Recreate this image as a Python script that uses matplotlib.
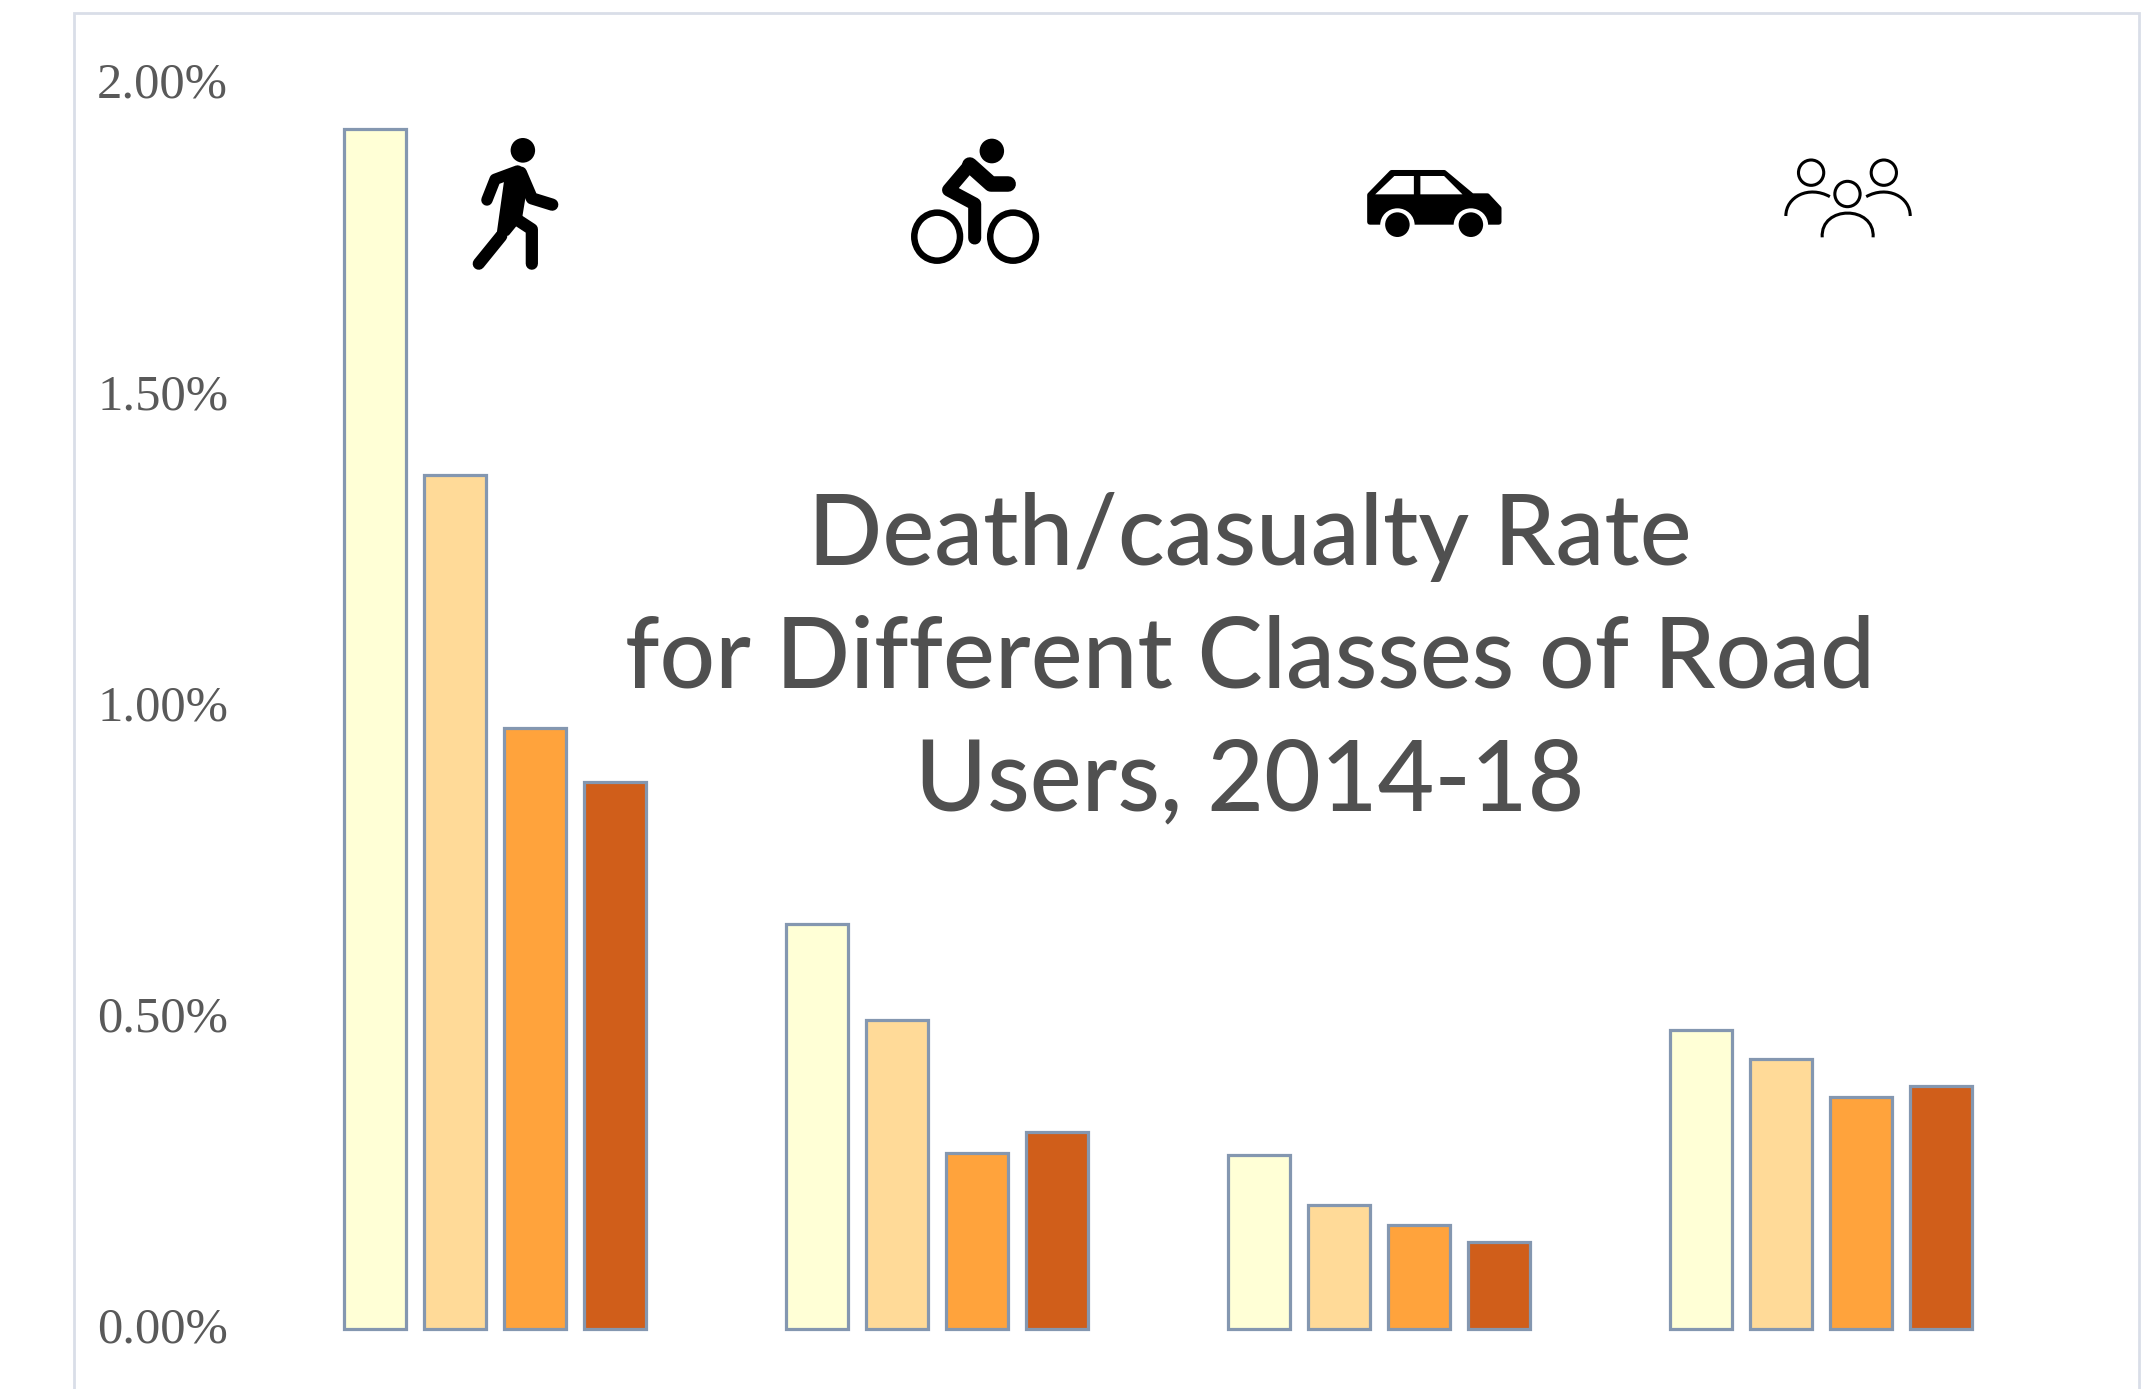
import numpy as np
import matplotlib
matplotlib.use('Agg')
import matplotlib.pyplot as plt
from matplotlib.patches import Ellipse, PathPatch
from matplotlib.path import Path
from matplotlib.transforms import ScaledTranslation

# road user groups, each with four bars
groups = ['Pedestrians', 'Cyclists', 'Car occupants', 'All road users']
series1 = [1.927, 0.650, 0.280, 0.480]
series2 = [1.372, 0.496, 0.200, 0.434]
series3 = [0.965, 0.282, 0.167, 0.372]
series4 = [0.879, 0.317, 0.139, 0.390]
colors = ['#FFFFD6', '#FFDA98', '#FFA33C', '#D05E1A']
tick_vals = [0, 0.5, 1.0, 1.5, 2.0]
tick_labels = ['0.00%', '0.50%', '1.00%', '1.50%', '2.00%']
title = 'Death/casualty Rate\nfor Different Classes of Road\nUsers, 2014-18'

W, H = 2149, 1389
fig = plt.figure(figsize=(W / 100, H / 100), dpi=100, facecolor='white')

# pixel overlay for the border and the icons
ov = fig.add_axes([0, 0, 1, 1])
ov.set_xlim(0, W)
ov.set_ylim(H, 0)
ov.axis('off')

ax = fig.add_axes([274 / W, 1 - 1329 / H, (2042 - 274) / W, (1329 - 84) / H])
ax.patch.set_alpha(0)
x = np.arange(len(groups))
step = 0.1815
width = 0.141
for i, vals in enumerate([series1, series2, series3, series4]):
    ax.bar(x + (i - 1.5) * step, vals, width, color=colors[i],
           edgecolor='#8497B0', linewidth=2.3, clip_on=False)
ax.set_xlim(-0.5, 3.5)
ax.set_ylim(0, 2)
ax.set_xticks([])
ax.set_yticks(tick_vals)
ax.set_yticklabels(tick_labels, family='Liberation Serif', fontsize=36.5, color='#595959',
                   va='center_baseline')
ax.tick_params(axis='y', length=0, pad=33)
# labels sit a little above their tick
for lab in ax.get_yticklabels():
    lab.set_transform(lab.get_transform() + ScaledTranslation(0, 4 / 100, fig.dpi_scale_trans))
for s in ax.spines.values():
    s.set_visible(False)

fig.text(1250 / W, 1 - 660 / H, title, ha='center', va='center', family='Lato',
         fontsize=70.5, fontweight='medium', color='#505050', linespacing=1.45)

# border, open at the bottom
ov.plot([74, 74, 2139, 2139], [H, 13, 13, H], color='#D9DEE8', lw=2, solid_joinstyle='miter')


def line(pts, off, lw, color='black', cap='round', join='round'):
    xs = [p[0] / off[2] + off[0] for p in pts]
    ys = [p[1] / 3 + off[1] for p in pts]
    ov.plot(xs, ys, color=color, lw=lw / off[2] * 0.72, solid_capstyle=cap, solid_joinstyle=join)


def oval(c, w, h, off, fill='black', lw=0, edge='black'):
    ov.add_patch(Ellipse((c[0] / off[2] + off[0], c[1] / 3 + off[1]), w / off[2], h / 3,
                         facecolor=fill, edgecolor=edge, linewidth=lw / off[2] * 0.72))


def shape(pts, off, fill='black', round_lw=0):
    verts = [(p[0] / off[2] + off[0], p[1] / 3 + off[1]) for p in pts] + [(0, 0)]
    codes = [Path.MOVETO] + [Path.LINETO] * (len(pts) - 1) + [Path.CLOSEPOLY]
    ov.add_patch(PathPatch(Path(verts, codes), facecolor=fill, edgecolor=fill,
                           linewidth=round_lw / off[2] * 0.72, joinstyle='round'))


def curve(pts, off, lw):
    verts = [(p[0] / off[2] + off[0], p[1] / 3 + off[1]) for p in pts]
    codes = [Path.MOVETO] + [Path.CURVE4] * (len(pts) - 1)
    ov.add_patch(PathPatch(Path(verts, codes), facecolor='none', edgecolor='black',
                           linewidth=lw / off[2] * 0.72, capstyle='butt'))


# pedestrian
off = (440, 110, 2.45)
oval((203, 121), 60, 74, off)
line([(115, 270), (135, 208), (190, 183)], off, 28)
line([(198, 188), (225, 265), (275, 284)], off, 30)
shape([(165, 195), (200, 185), (205, 250), (195, 325), (165, 370), (145, 370)], off, round_lw=12)
line([(150, 378), (95, 461)], off, 30)
line([(180, 322), (225, 358), (225, 461)], off, 30)

# cyclist
oval((1352, 123), 60, 74, off)
oval((1218, 380), 112, 144, off, fill='white', lw=16)
oval((1404, 380), 112, 144, off, fill='white', lw=16)
line([(1298, 165), (1246, 240), (1310, 282), (1310, 384)], off, 32)
line([(1298, 165), (1350, 222), (1392, 222)], off, 38)

# car
off = (1340, 130, 2.613)
shape([(78, 195), (135, 128), (272, 128), (345, 198), (385, 198), (415, 235), (415, 276),
       (78, 276)], off, round_lw=14)
for cx in [150, 342]:
    oval((cx, 285), 90, 100, off, fill='white')
shape([(92, 193), (142, 138), (193, 138), (193, 193)], off, fill='white')
shape([(210, 138), (272, 138), (320, 193), (210, 193)], off, fill='white')
ov.add_patch(plt.Rectangle((off[0] + 60 / off[2], off[1] + 284 / 3), 370 / off[2], 50 / 3,
                           facecolor='white', edgecolor='none'))
for cx in [150, 342]:
    oval((cx, 284), 64, 74, off)

# group of people
for c in [(1231, 128), (1421, 128), (1326, 192)]:
    oval(c, 66, 76, off, fill='none', lw=8)
curve([(1165, 258), (1165, 200), (1225, 165), (1280, 200)], off, 8)
curve([(1375, 200), (1430, 165), (1490, 200), (1490, 258)], off, 8)
curve([(1260, 322), (1255, 225), (1398, 225), (1393, 322)], off, 8)

fig.savefig('out.png', dpi=100)
